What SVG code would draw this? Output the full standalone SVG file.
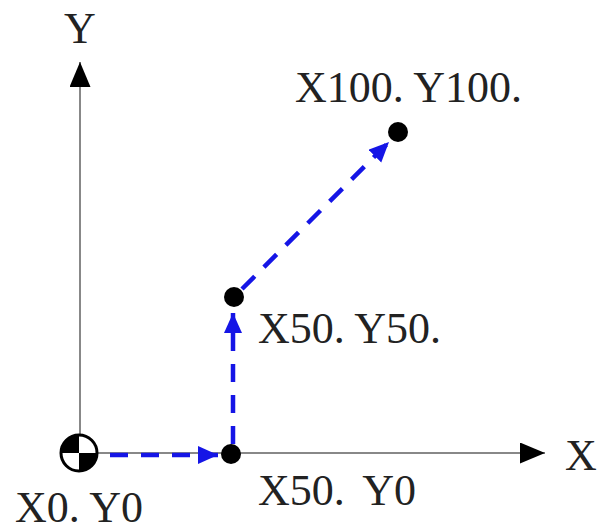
<svg xmlns="http://www.w3.org/2000/svg" width="611" height="532" viewBox="0 0 611 532">
<defs>
<style>
.lbl{font-family:"Liberation Serif","Times New Roman",serif;font-size:44px;fill:#222}
.axis{stroke:#888;stroke-width:2;fill:none}
.move{stroke:#1515e6;stroke-width:4.5;stroke-dasharray:18 13;fill:none}
.dot{fill:#000}
</style>
<marker id="ah" markerUnits="userSpaceOnUse" markerWidth="22" markerHeight="20" refX="20" refY="9" orient="auto">
<path d="M0,0 L20,9 L0,18 Z" fill="#1515e6"/>
</marker>
<marker id="ax" markerUnits="userSpaceOnUse" markerWidth="26" markerHeight="22" refX="25" refY="10.5" orient="auto">
<path d="M0,0 L25,10.5 L0,21 Z" fill="#000"/>
</marker>
</defs>
<rect width="611" height="532" fill="#fff"/>
<g id="axes">
<line class="axis" x1="80" y1="436" x2="80" y2="62" marker-end="url(#ax)"/>
<line class="axis" x1="97" y1="453" x2="545" y2="453" marker-end="url(#ax)"/>
<text class="lbl" x="80" y="43" text-anchor="middle">Y</text>
<text class="lbl" x="581" y="470" text-anchor="middle">X</text>
</g>
<g id="connectors">
<line class="move" x1="110" y1="455" x2="218" y2="455" marker-end="url(#ah)"/>
<line class="move" x1="233" y1="444" x2="233" y2="313" marker-end="url(#ah)"/>
<line class="move" x1="242" y1="289" x2="389" y2="142" marker-end="url(#ah)"/>
</g>
<g id="origin">
<circle cx="79" cy="453" r="18" fill="#fff" stroke="#000" stroke-width="3"/>
<path d="M79,453 L61,453 A18,18 0 0 1 79,435 Z" fill="#000"/>
<path d="M79,453 L97,453 A18,18 0 0 1 79,471 Z" fill="#000"/>
<text class="lbl" x="15" y="522">X0. Y0</text>
</g>
<g id="p50_0">
<circle class="dot" cx="231" cy="454" r="10"/>
<text class="lbl" x="258" y="505" word-spacing="8">X50. Y0</text>
</g>
<g id="p50_50">
<circle class="dot" cx="234" cy="297" r="10"/>
<text class="lbl" x="258" y="343">X50. Y50.</text>
</g>
<g id="p100_100">
<circle class="dot" cx="398" cy="132" r="10"/>
<text class="lbl" x="295" y="102">X100. Y100.</text>
</g>
</svg>
